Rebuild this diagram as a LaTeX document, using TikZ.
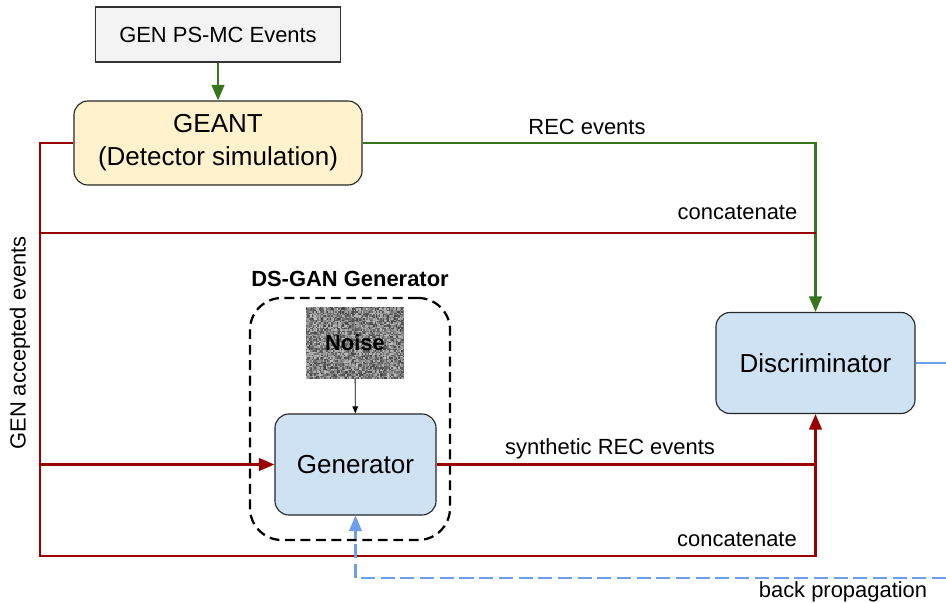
\documentclass[tikz,border=0pt]{standalone}
\usepackage{fontspec}
\setmainfont{Liberation Sans}
\usetikzlibrary{arrows.meta,positioning}
\definecolor{gdred}{HTML}{990000}
\definecolor{gdgreen}{HTML}{38761D}
\definecolor{gdblue}{HTML}{6D9EEB}
\definecolor{boxblue}{HTML}{CFE2F3}
\definecolor{boxyellow}{HTML}{FFF2CC}
\definecolor{boxgray}{HTML}{F3F3F3}

\begin{document}
\begin{tikzpicture}[x=0.025cm,y=-0.025cm,
  font=\fontsize{15.6}{18}\selectfont,
  inbox/.style={draw=black!80,fill=boxgray,line width=0.8pt,
    minimum width=6.125cm,minimum height=1.375cm},
  myrect/.style={draw=black!85,line width=0.8pt,rounded corners=0.35cm,
    align=center,font=\fontsize{18.5}{23.5}\selectfont},
  netbox/.style={myrect,fill=boxblue,minimum height=2.525cm},
  tip/.style={-{Triangle[width=9pt,length=11pt]}},
  greenline/.style={draw=gdgreen,line width=1.5pt},
  redline/.style={draw=gdred,line width=1.5pt},
  blueline/.style={draw=gdblue,line width=1.5pt},
  lbl/.style={anchor=base}]

  \useasboundingbox (0,0) rectangle (946,603);

  \node[inbox] (gen) at (218,34.5) {GEN PS-MC Events};
  \node[myrect,fill=boxyellow,minimum width=7.2cm,minimum height=2.1cm]
    (geant) at (218,143) {GEANT\\(Detector simulation)};
  \node[netbox,minimum width=4.975cm] (disc) at (815.5,363) {Discriminator};
  \node[netbox,minimum width=4.025cm] (generator) at (355.5,464.5) {Generator};

  \node[draw,line width=1.6pt,dash pattern=on 7pt off 4pt,
    rounded corners=0.8cm,minimum width=5cm,minimum height=6.05cm]
    (dsgan) at (350,419) {};
  \node[lbl,font=\fontsize{15.6}{18}\selectfont\bfseries] (dsganlbl)
    at (350,287) {DS-GAN Generator};

  \pgfmathsetseed{11}
  \foreach \i in {0,...,69}
    \foreach \j in {0,...,50} {
      \pgfmathsetmacro\g{int(25+50*rnd)}
      \fill[black!\g] (306+1.4*\i,307+1.4*\j) rectangle ++(1.5,1.5);
    }
  \node[minimum width=2.45cm,minimum height=1.775cm,font=\fontsize{15.6}{18}\selectfont\bfseries]
    (noise) at (355,342.5) {Noise};

  \coordinate (tl) at (40,143);
  \coordinate (bl) at (40,556);
  \coordinate (ctop) at (40,233);
  \coordinate (bpend) at (946,578);
  \coordinate (dout) at (946,363);

  \draw[greenline,tip] (gen) -- (geant);
  \draw[greenline,tip] (geant.east) -| (disc.north);
  \node[lbl] (reclbl) at (587,135) {REC events};

  \draw[redline,tip] (geant.west) -- (tl) -- (bl) -| (disc.south);
  \draw[redline] (ctop) -- (ctop -| disc.north);
  \node[lbl] (cat1) at (737.5,220) {concatenate};
  \draw[redline,tip] (generator.west -| tl) -- (generator.west);
  \draw[redline] (generator.east) -- (generator.east -| disc.south);
  \node[lbl] (synlbl) at (610,454) {synthetic REC events};
  \node[lbl] (cat2) at (737,546) {concatenate};
  \node[rotate=90] (genacc) at (20,343) {GEN accepted events};

  \draw[-{Triangle[width=4pt,length=5pt]},line width=0.6pt] (noise) -- (generator);

  \draw[blueline] (disc.east) -- (disc.east -| dout);
  \draw[blueline,dash pattern=on 10pt off 4pt,tip] (bpend) -| (generator.south);
  \node[lbl] (bplbl) at (843,597) {back propagation};
\end{tikzpicture}
\end{document}
